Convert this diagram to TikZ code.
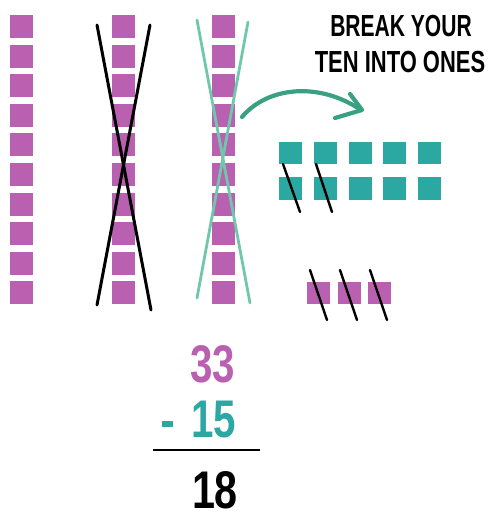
\documentclass[tikz,border=0pt]{standalone}
\usepackage{fontspec}
\setmainfont{Liberation Sans}
\definecolor{pinkc}{RGB}{186,96,176}
\definecolor{tealsq}{RGB}{44,168,163}
\definecolor{tealx}{RGB}{112,200,172}
\definecolor{tealarrow}{RGB}{58,160,130}
\begin{document}
\begin{tikzpicture}[x=1pt,y=-1pt,
  pinksq/.style={fill=pinkc},
  tealbox/.style={fill=tealsq},
  blackx/.style={draw=black,line width=3pt,line cap=round},
  tealcross/.style={draw=tealx,line width=2.8pt,line cap=round},
  slash/.style={draw=black,line width=2.4pt,line cap=round},
  arrowline/.style={draw=tealarrow,line width=4.2pt,line cap=round,line join=round},
  headtext/.style={font=\bfseries\fontsize{30.5}{32}\selectfont,inner sep=0pt},
  numtext/.style={font=\bfseries\fontsize{53}{55}\selectfont,inner sep=0pt}]
\useasboundingbox (0,0) rectangle (487,516);
% columns of tens
\foreach \cx in {10,112,212}{
  \foreach \i in {0,...,9}{
    \fill[pinksq] (\cx,{15+29.6*\i}) rectangle ++(23,23);
  }
}
% black X
\draw[blackx] (97,25) -- (151,310);
\draw[blackx] (150,25) -- (97,305);
% teal X
\draw[tealcross] (197,20) -- (250,303);
\draw[tealcross] (248,22) -- (197,298);
% curved arrow
\draw[arrowline] (242,117) .. controls (268,86) and (320,82) .. (361,110);
\draw[arrowline] (350,94) -- (362,110) -- (335,118);
% heading
\node[headtext] (h1) at (401,26) {\scalebox{0.69}[1]{BREAK YOUR}};
\node[headtext] (h2) at (400,62) {\scalebox{0.72}[1]{TEN INTO ONES}};
% teal ones grid
\foreach \j in {0,...,4}{
  \fill[tealbox] ({279+34.8*\j},142) rectangle ++(23,21.5);
  \fill[tealbox] ({279+34.8*\j},177) rectangle ++(23,23);
}
\draw[slash] (283,164) -- (300,212);
\draw[slash] (316,164) -- (332,212);
% pink ones
\foreach \j in {0,1,2}{
  \fill[pinksq] ({307+30.5*\j},282) rectangle ++(23,22);
  \draw[slash] ({310+30*\j},270) -- ({327+30*\j},320);
}
% numbers
\node[numtext,text=pinkc,anchor=south] (n33) at (212.5,383) {\scalebox{0.76}[1]{33}};
\node[numtext,text=tealsq,anchor=south] (n15) at (214,438) {\scalebox{0.76}[1]{15}};
\fill[tealsq] (162,421) rectangle (173,427);
\draw[line width=2pt] (153,450) -- (260,450);
\node[numtext,text=black,anchor=south] (n18) at (215,509) {\scalebox{0.78}[1]{18}};
\end{tikzpicture}
\end{document}
